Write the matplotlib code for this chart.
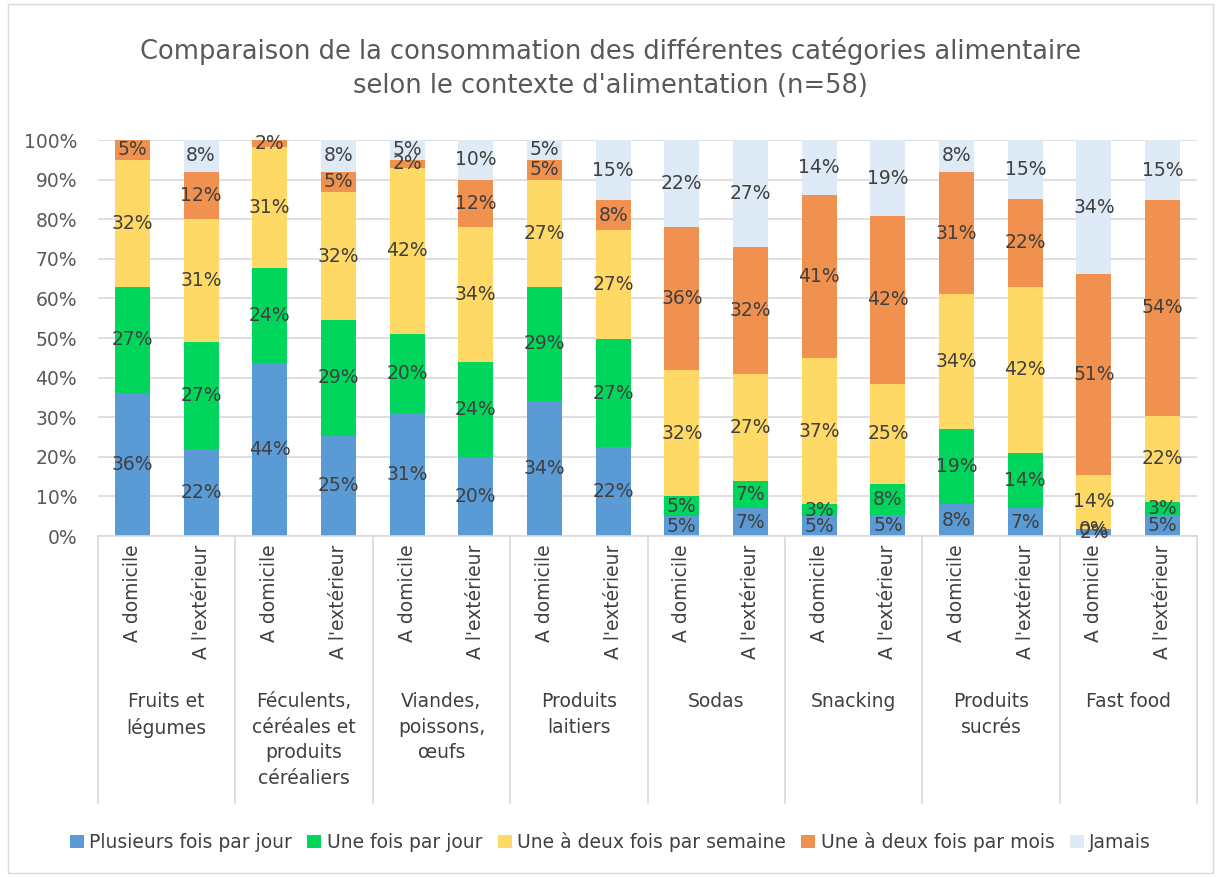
import numpy as np
import matplotlib.pyplot as plt
from matplotlib.patches import Rectangle, Patch

groups = ['Fruits et\nlégumes', 'Féculents,\ncéréales et\nproduits\ncéréaliers',
          'Viandes,\npoissons,\nœufs', 'Produits\nlaitiers', 'Sodas', 'Snacking',
          'Produits\nsucrés', 'Fast food']
contexts = ['A domicile', "A l'extérieur"]

series = ['Plusieurs fois par jour', 'Une fois par jour', 'Une à deux fois par semaine',
          'Une à deux fois par mois', 'Jamais']
colors = ['#5B9BD5', '#00D65B', '#FFD966', '#F0914F', '#DEEBF7']

# one value per bar (group x context), in %
plusieurs = [36, 22, 43.6, 25.3, 31, 20, 34, 22.4, 5, 7, 5, 5.2, 8, 7, 1.7, 5.2]
une_jour = [27, 27, 24.0, 29.2, 20, 24, 29, 27.4, 5, 7, 3, 8.0, 19, 14, 0, 3.4]
semaine = [32, 31, 30.6, 32.3, 42, 34, 27, 27.4, 32, 27, 37, 25.3, 34, 42, 13.8, 21.8]
mois = [5, 12, 1.8, 5.2, 2, 12, 5, 7.6, 36, 32, 41, 42.3, 31, 22, 50.6, 54.4]
jamais = [None, 8, None, 8.0, 5, 10, 5, 15.2, 22, 27, 14, 19.2, 8, 15, 33.9, 15.2]

data = [plusieurs, une_jour, semaine, mois, jamais]

fig = plt.figure(figsize=(12.21, 8.77), dpi=100)
W, H = 1221, 877
ax = fig.add_axes([98 / W, 1 - 536 / H, (1197 - 98) / W, (536 - 140) / H])

n = len(plusieurs)
x = np.arange(n)
bottom = np.zeros(n)
for vals, col, name in zip(data, colors, series):
    v = np.array([np.nan if a is None else a for a in vals], dtype=float)
    h = np.nan_to_num(v)
    ax.bar(x, h, 0.51, bottom=bottom, color=col, label=name, zorder=2)
    for i in range(n):
        if not np.isnan(v[i]):
            ax.text(x[i], bottom[i] + h[i] / 2, f'{v[i]:.0f}%', ha='center', va='center',
                    fontsize=13.5, color='#404040', zorder=3)
    bottom += h

ax.set_xlim(-0.5, n - 0.5)
ax.set_ylim(0, 100)
ax.set_yticks(np.arange(0, 101, 10))
ax.set_yticklabels([f'{t}%' for t in range(0, 101, 10)], fontsize=13.5, color='#595959')
ax.yaxis.grid(True, color='#D9D9D9', linewidth=1.2, zorder=0)
ax.set_axisbelow(True)
ax.tick_params(axis='y', length=0, pad=15)
ax.set_xticks([])
for s in ['top', 'right', 'left']:
    ax.spines[s].set_visible(False)
ax.spines['bottom'].set_color('#D9D9D9')
ax.spines['bottom'].set_linewidth(1.2)

trans = ax.get_xaxis_transform()
for i in range(n):
    ax.text(x[i], -0.022, contexts[i % 2], rotation=90, ha='center', va='top',
            fontsize=13.5, color='#404040', transform=trans)
bottom_line = -(803 - 536) / (536 - 140)
for g in range(len(groups) + 1):
    xb = 2 * g - 0.5
    ax.plot([xb, xb], [0, bottom_line], color='#D9D9D9', linewidth=1.2,
            transform=trans, clip_on=False)
for g, name in enumerate(groups):
    ax.text(2 * g + 0.5, -(692 - 536) / (536 - 140), name, ha='center', va='top',
            fontsize=13.5, color='#404040', transform=trans, linespacing=1.45)

fig.text(0.5, 1 - 68 / H, 'Comparaison de la consommation des différentes catégories alimentaire\n'
         "selon le contexte d'alimentation (n=58)", ha='center', va='center',
         fontsize=18.5, color='#595959', linespacing=1.4)

handles = [Patch(facecolor=c) for c in colors]
fig.legend(handles, series, loc='center', bbox_to_anchor=(0.5, 1 - 842 / H), ncol=5,
           frameon=False, fontsize=13.5, handlelength=0.75, handleheight=0.75,
           handletextpad=0.3, columnspacing=0.8, labelcolor='#404040')

fig.patches.append(Rectangle((8 / W, 4 / H), 1 - 16 / W, 1 - 8 / H, transform=fig.transFigure,
                             fill=False, edgecolor='#D9D9D9', linewidth=1))

fig.savefig('out.png', dpi=100)
